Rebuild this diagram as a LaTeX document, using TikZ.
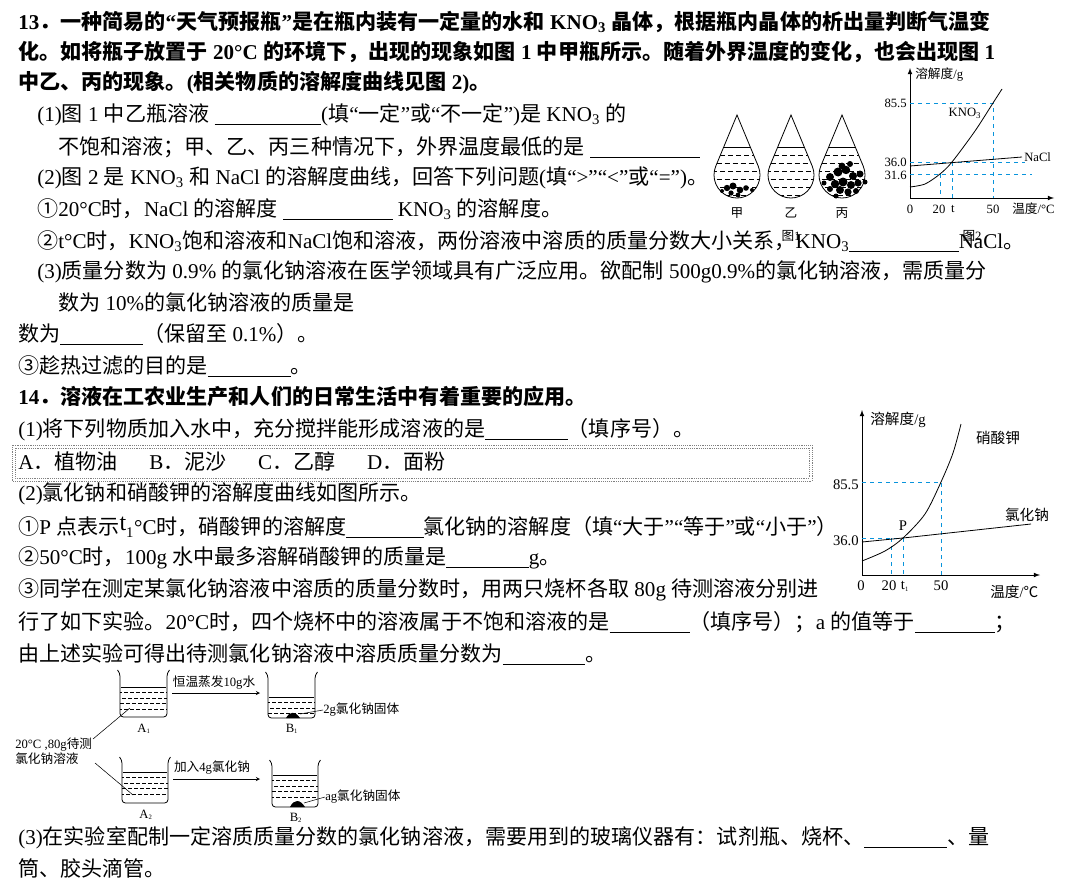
\documentclass[tikz,border=0pt]{standalone}
\usepackage{fontspec}
\setmainfont{Liberation Serif}
\newfontfamily\cjk{Noto Sans CJK SC}
\usetikzlibrary{decorations.pathmorphing,calc}
\XeTeXinterchartokenstate=1
\newXeTeXintercharclass\cjkclass
\makeatletter
\newcount\my@c
\def\my@assign#1#2{\my@c=#1\relax\loop\XeTeXcharclass\my@c=\cjkclass\advance\my@c by 1\relax\ifnum\my@c<#2\repeat}
\my@assign{"4E00}{"A000}
\my@assign{"3000}{"3040}
\my@assign{"FF00}{"FFF0}
\my@assign{"2460}{"2474}
\my@assign{"2103}{"2104}
\makeatother
\XeTeXinterchartoks 0 \cjkclass = {\begingroup\cjk}
\XeTeXinterchartoks 4095 \cjkclass = {\begingroup\cjk}
\XeTeXinterchartoks \cjkclass 0 = {\endgroup}
\XeTeXinterchartoks \cjkclass 4095 = {\endgroup}
\newcommand\fs{\fontsize{15.8}{18}\selectfont}
\newcommand\sm{\fontsize{11}{13}\selectfont}
\newcommand\tn{\fontsize{9.5}{11}\selectfont}
\newcommand\blk[1]{\rule[-2.5pt]{#1pt}{0.6pt}}
\newcommand\sub[1]{\textsubscript{#1}}
\begin{document}
\begin{tikzpicture}[x=0.75pt,y=-0.75pt,
  txt/.style={anchor=west,inner sep=0pt,font=\fs},
  btxt/.style={anchor=west,inner sep=0pt,font=\fs\bfseries},
  lab/.style={inner sep=0pt,font=\sm},
  tlab/.style={inner sep=0pt,font=\tn},
  guide/.style={cyan!80!blue,dashed,line width=0.7pt},
  curve/.style={line width=0.6pt}]
\useasboundingbox (0,0) rectangle (1072,885);
% ---- text ----
\node[btxt] (l1) at (18,22) {13．一种简易的“天气预报瓶”是在瓶内装有一定量的水和 KNO\sub{3} 晶体，根据瓶内晶体的析出量判断气温变};
\node[btxt] (l2) at (18,52) {化。如将瓶子放置于 20°C 的环境下，出现的现象如图 1 中甲瓶所示。随着外界温度的变化，也会出现图 1};
\node[btxt] (l3) at (18,83) {中乙、丙的现象。(相关物质的溶解度曲线见图 2)。};
\node[txt] (l4) at (37,115) {(1)图 1 中乙瓶溶液 \blk{80}(填“一定”或“不一定”)是 KNO\sub{3} 的};
\node[txt] (l5) at (58,147) {不饱和溶液；甲、乙、丙三种情况下，外界温度最低的是 \blk{82}};
\node[txt] (l6) at (37,178) {(2)图 2 是 KNO\sub{3} 和 NaCl 的溶解度曲线，回答下列问题(填“>”“<”或“=”)。};
\node[txt] (l7) at (37,209) {①20°C时，NaCl 的溶解度 \blk{82} KNO\sub{3} 的溶解度。};
\node[txt] (l8) at (37,241) {②t°C时，KNO\sub{3}饱和溶液和NaCl饱和溶液，两份溶液中溶质的质量分数大小关系，KNO\sub{3}\blk{82}NaCl。};
\node[txt] (l9) at (37,272) {(3)质量分数为 0.9\%  的氯化钠溶液在医学领域具有广泛应用。欲配制 500g0.9\%的氯化钠溶液，需质量分};
\node[txt] (l10) at (58,302) {数为 10\%的氯化钠溶液的质量是};
\node[txt] (l11) at (18,334) {数为\blk{62}（保留至 0.1\%）。};
\node[txt] (l12) at (18,366) {③趁热过滤的目的是\blk{62}。};
\node[btxt] (l13) at (18,397) {14．溶液在工农业生产和人们的日常生活中有着重要的应用。};
\node[txt] (l14) at (18,430) {(1)将下列物质加入水中，充分搅拌能形成溶液的是\blk{62}（填序号）。};
\draw[gray,densely dotted] (12,445) rectangle (812,481);
\draw[gray,densely dotted] (15,448) rectangle (809,478);
\node[txt] (l15) at (18,462) {A．植物油\quad\ \ B．泥沙\quad\ \ C．乙醇\quad\ \ D．面粉};
\node[txt] (l16) at (18,494) {(2)氯化钠和硝酸钾的溶解度曲线如图所示。};
\node[txt] (l17) at (18,527) {①P 点表示\raisebox{3pt}{\fontsize{18}{18}\selectfont t}\sub{1}°C时，硝酸钾的溶解度\blk{58}氯化钠的溶解度（填“大于”“等于”或“小于”）};
\node[txt] (l18) at (18,558) {②50°C时，100g 水中最多溶解硝酸钾的质量是\blk{62}g。};
\node[txt] (l19) at (18,590) {③同学在测定某氯化钠溶液中溶质的质量分数时，用两只烧杯各取 80g 待测溶液分别进};
\node[txt] (l20) at (18,622) {行了如下实验。20°C时，四个烧杯中的溶液属于不饱和溶液的是\blk{60}（填序号）；a 的值等于\blk{60}；};
\node[txt] (l21) at (18,654) {由上述实验可得出待测氯化钠溶液中溶质质量分数为\blk{62}。};
\node[txt] (l22) at (18,838) {(3)在实验室配制一定溶质质量分数的氯化钠溶液，需要用到的玻璃仪器有：试剂瓶、烧杯、\blk{62}、量};
\node[txt] (l23) at (18,868) {筒、胶头滴管。};
% ---- figure 1: bottles ----
\foreach \cx/\nm in {737/甲,791/乙,842/丙}{
  \begin{scope}
    \clip (\cx,115) -- ($(\cx,175)+(-22.5:23)$) arc[start angle=-22.5,end angle=202.5,radius=23] -- cycle;
    \draw[line width=0.5pt] (\cx-25,147) -- (\cx+25,147);
    \foreach \yy/\off in {155/0,163/2.5,171/0,179/2.5,187/0,195/2.5}
      \draw[line width=0.45pt,dash pattern=on 4pt off 2pt,dash phase=\off pt] (\cx-25,\yy) -- (\cx+25,\yy);
  \end{scope}
  \draw[line width=0.6pt] (\cx,115) -- ($(\cx,175)+(-22.5:23)$) arc[start angle=-22.5,end angle=202.5,radius=23] -- cycle;
  \node[tlab] at (\cx,213) {\nm};
}
\foreach \px/\py/\r in {727/188/3.2,733/186/3.5,740/190/3.3,746/188/2.8,731/193/2.6,738/195/2.4,752/190/2,722/191/2}
  \fill (\px,\py) circle[radius=\r];
\foreach \px/\py/\r in {830/177/4,838/172/4.5,846/170/4.2,853/176/4,860/174/3.5,835/184/4.2,843/182/4.5,851/185/4,858/183/3.6,840/190/4,848/192/3.6,830/189/3,856/191/3,842/166/3.4,850/164/3,865/182/2.5,824/183/2.5,836/196/2.5}
  \fill (\px,\py) circle[radius=\r];
\node[tlab] (c1) at (791,236) {图1};
\node[tlab] (c2) at (972,236) {图2};
% ---- figure 2 ----
\coordinate (o2) at (910,198);
\draw[-latex,line width=0.6pt] (o2) -- (910,68);
\draw[-latex,line width=0.6pt] (o2) -- (1054,198);
\draw[guide] (910,103) -- (993,103) -- (993,198);
\draw[guide] (910,162) -- (1025,162);
\draw[guide] (910,174) -- (1032,174);
\draw[guide] (940,174) -- (940,198);
\draw[guide] (952,162) -- (952,198);
\draw[curve] plot[smooth] coordinates {(910,187)(925,184)(940,174)(952,162)(975,131)(993,103)(1002,89)};
\draw[curve] (910,166) -- (1022,157);
\node[tlab,anchor=west] at (915,75) {溶解度/g};
\node[tlab,anchor=east] at (907,103) {85.5};
\node[tlab,anchor=east] at (907,162) {36.0};
\node[tlab,anchor=east] at (907,175) {31.6};
\node[tlab] at (965,113) {KNO\sub{3}};
\node[tlab,anchor=west] at (1024,157) {NaCl};
\node[tlab] at (910,209) {0};
\node[tlab] at (939,209) {20};
\node[tlab] at (953,209) {t};
\node[tlab] at (993,209) {50};
\node[tlab,anchor=west] at (1012,209) {温度/°C};
% ---- figure 3 ----
\coordinate (o3) at (862,575);
\draw[-latex,line width=0.6pt] (o3) -- (862,410);
\draw[-latex,line width=0.6pt] (o3) -- (1040,575);
\draw[guide] (862,482) -- (941,482) -- (941,575);
\draw[guide] (862,538) -- (903,538);
\draw[guide] (891,538) -- (891,575);
\draw[guide] (903,538) -- (903,575);
\draw[curve] plot[smooth] coordinates {(862,561)(885,551)(903,538)(925,514)(941,482)(953,453)(961,424)};
\draw[curve] (862,542) -- (903,538) -- (1031,524);
\node[lab,anchor=west] at (870,420) {溶解度/g};
\node[lab] at (998,438) {硝酸钾};
\node[lab] at (1027,515) {氯化钠};
\node[lab] at (903,526) {P};
\node[lab,anchor=east] at (859,485) {85.5};
\node[lab,anchor=east] at (859,541) {36.0};
\node[lab] at (861,586) {0};
\node[lab] at (889,586) {20};
\node[lab] at (905,586) {t\textsubscript{\tiny 1}};
\node[lab] at (941,586) {50};
\node[lab,anchor=west] at (990,592) {温度/℃};
% ---- beakers ----
\newcommand\beaker[5]{% x0 x1 top bottom level
  \begin{scope}
  \clip (#1,#5) rectangle (#2,#4);
  \foreach \k in {1,2,3,4} \draw[line width=0.4pt,dash pattern=on 3pt off 1.5pt,dash phase=\k*1.5pt] (#1,#5+\k*5.5) -- (#2,#5+\k*5.5);
  \end{scope}
  \draw[line width=0.45pt] (#1+1,#5) -- (#2-1,#5);
  \draw[line width=0.6pt,rounded corners=2.5pt] (#1-2.5,#3) -- (#1,#3+3) -- (#1,#4) -- (#2,#4) -- (#2,#3+3) -- (#2+2.5,#3);}
\beaker{120}{167}{670}{717}{687}
\beaker{268}{315}{672}{718}{697}
\beaker{122}{168}{757}{803}{772}
\beaker{272}{318}{760}{807}{775}
\fill (286,718) .. controls (290,711) and (295,711) .. (300,718) -- cycle;
\fill (290,807) .. controls (294,799) and (300,799) .. (305,807) -- cycle;
\coordinate (a1) at (172,693); \coordinate (b1) at (260,693);
\coordinate (a2) at (173,779); \coordinate (b2) at (260,779);
\draw[-stealth,line width=0.4pt] (a1) -- (b1);
\draw[-stealth,line width=0.4pt] (a2) -- (b2);
\node[tlab] at (214,683) {恒温蒸发10g水};
\node[tlab] at (212,768) {加入4g氯化钠};
\node[tlab,align=left,anchor=west] (src) at (15,751) {20°C ,80g待测\\氯化钠溶液};
\draw[line width=0.4pt] (93,739) -- (130,708);
\draw[line width=0.4pt] (95,763) -- (133,795);
\node[tlab] at (144,729) {A\textsubscript{\tiny 1}};
\node[tlab] at (292,729) {B\textsubscript{\tiny 1}};
\node[tlab] at (146,815) {A\textsubscript{\tiny 2}};
\node[tlab] at (296,818) {B\textsubscript{\tiny 2}};
\node[tlab,anchor=west] (s1) at (323,710) {2g氯化钠固体};
\node[tlab,anchor=west] (s2) at (325,797) {ag氯化钠固体};
\draw[line width=0.4pt] (300,714) -- (s1.west);
\draw[line width=0.4pt] (304,803) -- (s2.west);
\end{tikzpicture}
\end{document}
